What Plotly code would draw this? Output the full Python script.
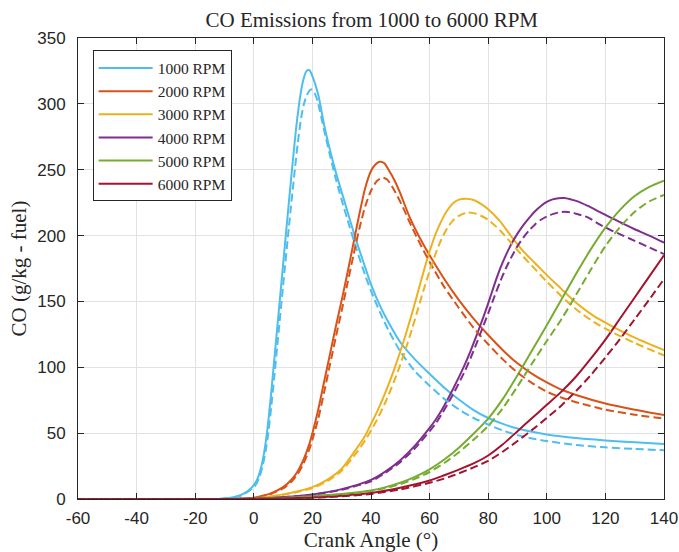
import plotly.graph_objects as go

# ---------------- data ----------------
rpm_labels = ["1000 RPM", "2000 RPM", "3000 RPM", "4000 RPM", "5000 RPM", "6000 RPM"]
colors = ["#4DBEEE", "#D95319", "#EDB120", "#7E2F8E", "#77AC30", "#A2142F"]

x_1000 = [-60, -40, -20, -12, -10, -8, -6, -4, -2, 0, 1, 2, 3, 4, 5, 6, 7, 8, 10, 12, 14, 15, 16, 17, 18, 19, 20,
          22, 24, 26, 28, 30, 32, 35, 38, 40, 43, 46, 50, 55, 60, 65, 70, 75, 80, 85, 90, 95, 100, 110, 120, 130, 140]
y_1000 = [0, 0, 0, 0, 0.5, 1, 2, 3.5, 6, 10.5, 14, 20, 29, 42, 60, 82, 106, 130, 178, 226, 272, 292, 308, 319, 325,
          325.5, 321, 307, 284, 265, 248, 233, 218, 196, 176, 163, 147, 134, 119, 106, 95, 84.5, 75.5, 67.5, 61.5,
          57, 53.5, 51, 49, 46.3, 44.5, 43, 41.8]
x_1000d = [-60, -40, -20, -12, -10, -8, -6, -4, -2, 0, 1, 2, 3, 4, 5, 6, 7, 8, 10, 12, 14, 15, 16, 17, 18, 19, 19.5,
           20, 21, 22, 24, 26, 28, 30, 32, 35, 38, 40, 43, 46, 50, 55, 60, 65, 70, 75, 80, 85, 90, 95, 100, 110, 120,
           130, 140]
y_1000d = [0, 0, 0, 0, 0.3, 0.8, 1.5, 3, 5.5, 9, 12, 17, 25, 36, 51, 71, 93, 116, 162, 207, 250, 270, 287, 299, 306,
           310, 311, 310.5, 307, 300, 280, 261, 243, 227, 212, 190, 170, 158, 142, 128, 112, 97, 86, 76, 68, 61.5,
           56.5, 52, 48.5, 46, 44, 41, 39.2, 38, 37]

x_2000 = [-60, -20, -10, -5, 0, 3, 6, 10, 13, 15, 17, 19, 20, 22, 24, 26, 28, 30, 32, 34, 36, 38, 40, 41.5, 43, 44.5,
          46, 48, 50, 53, 56, 60, 65, 70, 75, 80, 85, 90, 95, 100, 105, 110, 120, 130, 140]
y_2000 = [0, 0, 0, 0.2, 1, 2.5, 4.5, 9, 15, 21, 30, 42, 50, 68, 89, 110, 131, 151, 172, 194, 216, 236, 249, 254,
          256, 255, 250, 242, 232, 215, 201, 185, 167, 151, 137, 124.5, 113, 103, 95, 88.5, 83, 79, 72.5, 67.8, 63.8]
x_2000d = [-60, -20, -10, -5, 0, 3, 6, 10, 13, 15, 17, 19, 20, 22, 24, 26, 28, 30, 32, 34, 36, 38, 40, 42, 44, 45.5,
           47, 49, 51, 53, 56, 60, 65, 70, 75, 80, 85, 90, 95, 100, 105, 110, 120, 130, 140]
y_2000d = [0, 0, 0, 0.15, 0.8, 2, 4, 8, 13.5, 19, 27, 38, 45, 61, 81, 102, 123, 143, 164, 185, 205, 222, 234, 241.5,
           244, 242.5, 238, 230, 221, 211, 197, 180, 161, 145, 130, 117.5, 106, 96, 88, 81.5, 77, 73.5, 67.8, 64, 61]

x_3000 = [-60, -20, -10, 0, 10, 20, 25, 30, 35, 38, 40, 42, 44, 46, 48, 50, 52, 54, 56, 58, 60, 62, 64, 66, 68, 70,
          72.5, 75, 77.5, 80, 84, 88, 92, 96, 100, 105, 110, 116, 122, 130, 140]
y_3000 = [0, 0, 0, 0.5, 3.5, 9, 14.5, 23, 38, 48, 57, 66, 76, 87, 99, 112, 126, 141, 157, 173, 188, 201, 211, 219,
          224.5, 227.3, 228, 227, 224, 220, 211, 199, 188, 179, 170, 159.5, 149, 139, 131.5, 122.5, 113]
x_3000d = [-60, -20, -10, 0, 10, 20, 25, 30, 35, 38, 40, 42, 44, 46, 48, 50, 52, 54, 56, 58, 60, 62, 64, 66, 68, 70,
           73, 76, 80, 84, 88, 92, 96, 100, 105, 110, 116, 122, 130, 140]
y_3000d = [0, 0, 0, 0.4, 3.2, 8.3, 13.5, 21.5, 35, 44.5, 52, 60, 69, 79, 90, 102, 115, 129, 144, 159, 173, 186, 197,
           205.5, 211.5, 215, 217.5, 216.5, 212, 204, 194, 184, 174.5, 165, 154, 144, 134.5, 127, 118.5, 109]

x_4000 = [-60, -20, -10, 0, 10, 20, 30, 40, 45, 50, 55, 60, 62, 64, 66, 68, 70, 72, 74, 76, 78, 80, 82, 84, 86, 88,
          90, 92, 94, 96, 98, 100, 102, 104, 106, 108, 110, 114, 118, 122, 126, 130, 135, 140]
y_4000 = [0, 0, 0, 0.3, 1.5, 3.5, 7.5, 14.5, 21, 29.5, 40.5, 54, 60, 67, 75, 83.5, 92.5, 102, 112.5, 124, 136, 148.5,
          162, 174.5, 185, 194, 201.5, 208, 213.5, 218.5, 222.5, 225.5, 227.5, 228.4, 228.5, 227.6, 226.3, 222.5,
          218, 213.5, 209, 204.8, 200, 194.6]
x_4000d = [-60, -20, -10, 0, 10, 20, 30, 40, 45, 50, 55, 60, 62, 64, 66, 68, 70, 72, 74, 76, 78, 80, 82, 84, 86, 88,
           90, 92, 94, 96, 98, 100, 102, 104, 106, 108, 110, 114, 118, 122, 126, 130, 135, 140]
y_4000d = [0, 0, 0, 0.25, 1.3, 3.2, 7, 13.5, 20, 28, 38.5, 51.5, 57, 64, 71.5, 79.5, 88, 97, 107, 118, 129.5, 141,
           153, 164.5, 175, 184, 192, 198.5, 204, 208.5, 212, 214.5, 216.3, 217.5, 218, 217.6, 216.6, 213.8, 208.5,
           204, 200, 196, 191, 186]

x_5000 = [-60, -20, -10, 0, 10, 20, 30, 40, 45, 50, 55, 60, 65, 70, 75, 80, 85, 90, 95, 100, 105, 110, 115, 120, 125,
          130, 135, 140]
y_5000 = [0, 0, 0, 0.2, 0.9, 2.2, 3.8, 6.5, 9, 12.3, 16.8, 22.5, 30, 39, 49.5, 61, 76, 94, 113, 132, 151.5, 171,
          189.5, 206, 219.5, 230, 237, 241.7]
x_5000d = [-60, -20, -10, 0, 10, 20, 30, 40, 45, 50, 55, 60, 65, 70, 75, 80, 85, 90, 95, 100, 105, 110, 115, 120,
           125, 130, 135, 140]
y_5000d = [0, 0, 0, 0.2, 0.8, 2, 3.4, 6, 8.3, 11.3, 15.3, 20.5, 27.3, 35.5, 45, 55.5, 69, 85.5, 103, 120, 136.5, 155,
           174, 192, 206.5, 218, 226, 230.8]

x_6000 = [-60, -20, -10, 0, 10, 20, 30, 40, 50, 60, 65, 70, 75, 80, 85, 90, 95, 100, 105, 110, 115, 120, 125, 130,
          135, 140]
y_6000 = [0, 0, 0, 0.1, 0.5, 1.2, 2.5, 4.5, 8.5, 14, 18, 22.3, 27, 33, 41.5, 51.5, 61.5, 71.5, 81.5, 93, 106.5, 121,
          137, 153, 169, 185]
x_6000d = [-60, -20, -10, 0, 10, 20, 30, 40, 50, 60, 65, 70, 75, 80, 85, 90, 95, 100, 105, 110, 115, 120, 125, 130,
           135, 140]
y_6000d = [0, 0, 0, 0.1, 0.4, 1, 2, 3.8, 7.3, 12.3, 15.5, 19.5, 24, 29, 36, 44, 52.5, 61.5, 71, 82, 94, 107.5, 121.5,
           136.5, 151.5, 167]

x_tick_vals = [-60, -40, -20, 0, 20, 40, 60, 80, 100, 120, 140]
x_tick_text = ["-60", "-40", "-20", "0", "20", "40", "60", "80", "100", "120", "140"]
y_tick_vals = [0, 50, 100, 150, 200, 250, 300, 350]
y_tick_text = ["0", "50", "100", "150", "200", "250", "300", "350"]

solid = [(x_1000, y_1000), (x_2000, y_2000), (x_3000, y_3000), (x_4000, y_4000), (x_5000, y_5000), (x_6000, y_6000)]
dashed = [(x_1000d, y_1000d), (x_2000d, y_2000d), (x_3000d, y_3000d), (x_4000d, y_4000d), (x_5000d, y_5000d),
          (x_6000d, y_6000d)]

# ---------------- figure ----------------
fig = go.Figure()
for i in range(6):
    xs, ys = solid[i]
    fig.add_trace(go.Scatter(x=xs, y=ys, mode="lines", name=rpm_labels[i],
                             line=dict(color=colors[i], width=2, shape="spline", smoothing=0.7)))
for i in range(6):
    xd, yd = dashed[i]
    fig.add_trace(go.Scatter(x=xd, y=yd, mode="lines", showlegend=False,
                             line=dict(color=colors[i], width=2, dash="8px,4px", shape="spline", smoothing=0.7)))

serif = "Liberation Serif, Times New Roman, serif"
sans = "Liberation Sans, Arial, sans-serif"
axcol = "#262626"
gridcol = "#e2e2e2"

fig.update_layout(
    width=679, height=552,
    margin=dict(l=78, r=15, t=38, b=53),
    paper_bgcolor="white", plot_bgcolor="white",
    title=dict(text="CO Emissions from 1000 to 6000 RPM", x=0.5475, xanchor="center",
               y=1 - 20 / 552, yref="container", yanchor="middle",
               font=dict(family=serif, size=21, color=axcol)),
    legend=dict(x=0.025, y=0.973, xanchor="left", yanchor="top",
                bgcolor="white", bordercolor=axcol, borderwidth=1, itemwidth=54,
                font=dict(family=serif, size=15.5, color=axcol), tracegroupgap=0),
    showlegend=True,
)
fig.update_xaxes(range=[-60, 140], tickvals=x_tick_vals, ticktext=x_tick_text, automargin=False,
                 showgrid=True, gridcolor=gridcol, gridwidth=1, zeroline=False,
                 showline=True, linecolor=axcol, linewidth=1, mirror="ticks",
                 ticks="inside", ticklen=6, tickcolor=axcol, ticklabelstandoff=4,
                 tickfont=dict(family=sans, size=17, color=axcol),
                 title=dict(text="Crank Angle (°)", font=dict(family=serif, size=21, color=axcol), standoff=4))
fig.update_yaxes(range=[0, 350], tickvals=y_tick_vals, ticktext=y_tick_text, automargin=False,
                 showgrid=True, gridcolor=gridcol, gridwidth=1, zeroline=False,
                 showline=True, linecolor=axcol, linewidth=1, mirror="ticks",
                 ticks="inside", ticklen=6, tickcolor=axcol, ticklabelstandoff=8,
                 tickfont=dict(family=sans, size=17, color=axcol),
                 title=dict(text="CO (g/kg - fuel)", font=dict(family=serif, size=21, color=axcol), standoff=4))

fig.write_html("out.html")
